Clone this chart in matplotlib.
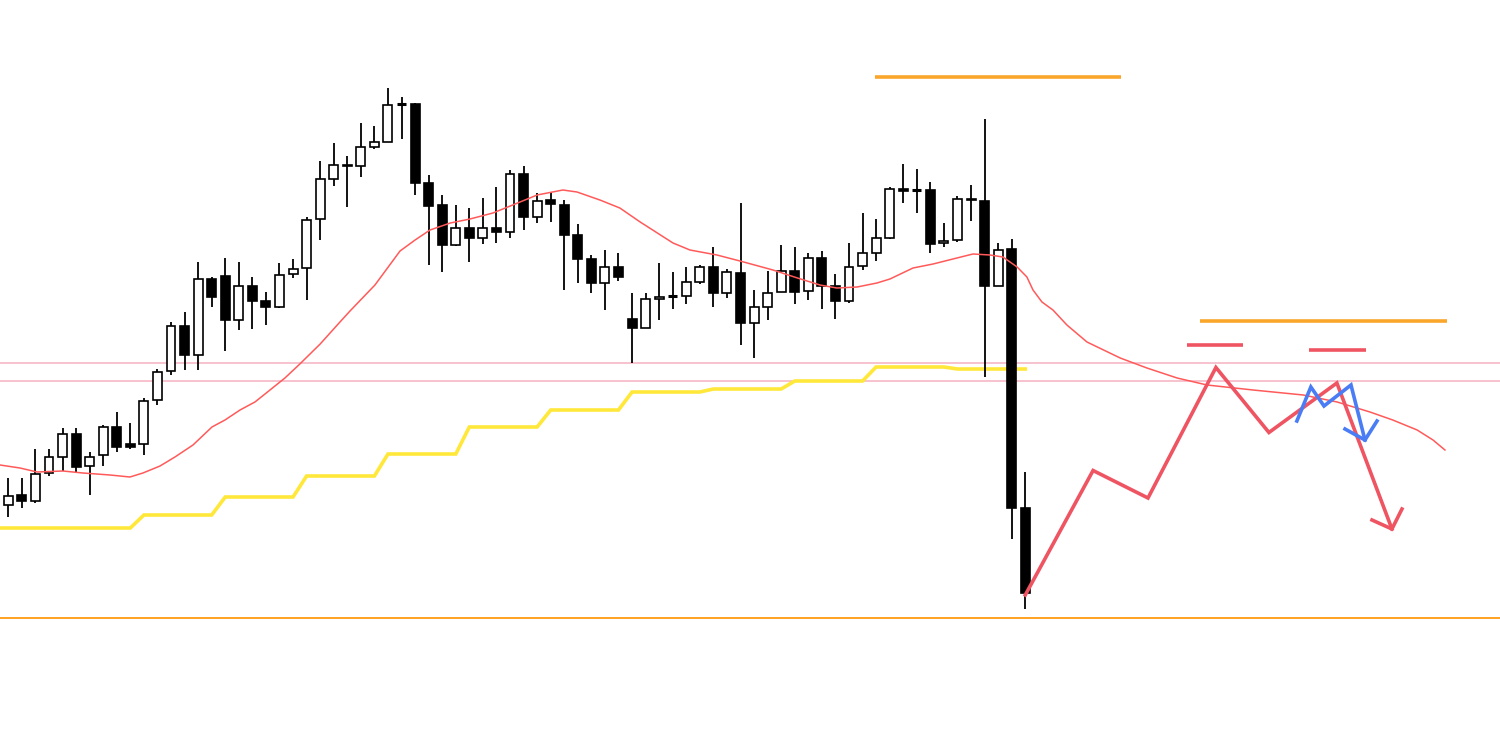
import matplotlib
matplotlib.use("Agg")
import matplotlib.pyplot as plt
from matplotlib.patches import Rectangle

# ---- candle data (price levels on an inverted chart scale; smaller = higher) ----
idx = list(range(-1, 76))
opens = [503, 505, 495, 501, 473, 457, 434, 466, 455, 427, 444, 444, 400, 371, 326, 355, 279, 276, 320, 286, 301,
         307, 274, 268, 219, 179, 166, 166, 147, 142, 104, 104, 183, 205, 245, 228, 238, 228, 232, 174, 217,
         200, 205, 235, 259, 283, 267, 319, 328, 299, 296, 296, 282, 267, 293, 273, 323, 307, 292, 271, 291,
         258, 286, 301, 266, 253, 238, 189, 190, 190, 243, 240, 200, 201, 286, 249, 508]
highs = [460, 478, 478, 449, 449, 428, 428, 452, 425, 412, 423, 398, 369, 322, 312, 262, 277, 258, 262, 277, 292,
         263, 259, 217, 161, 143, 156, 123, 126, 88, 97, 103, 175, 195, 205, 208, 198, 187, 170, 166, 193,
         192, 200, 224, 255, 250, 253, 293, 293, 263, 272, 267, 265, 247, 269, 203, 290, 271, 245, 247, 253,
         251, 274, 243, 213, 219, 187, 164, 169, 182, 223, 196, 185, 119, 243, 239, 472]
lows = [505, 517, 508, 503, 476, 471, 472, 495, 466, 452, 449, 455, 405, 375, 370, 370, 307, 351, 330, 329, 325,
        308, 278, 300, 240, 186, 207, 177, 149, 142, 139, 195, 265, 272, 246, 262, 244, 243, 238, 230, 223,
        222, 290, 283, 293, 310, 281, 363, 328, 320, 309, 304, 284, 307, 298, 345, 358, 320, 292, 304, 300,
        309, 319, 303, 270, 261, 239, 203, 213, 253, 247, 242, 221, 377, 286, 539, 609]
closes = [462, 496, 501, 474, 457, 434, 467, 457, 427, 447, 447, 401, 372, 326, 355, 279, 297, 320, 286, 301, 307,
          275, 269, 220, 179, 165, 165, 147, 142, 105, 104, 183, 206, 245, 228, 238, 228, 232, 174, 217, 201,
          204, 235, 259, 283, 267, 277, 328, 299, 297, 296, 282, 267, 293, 272, 323, 307, 293, 271, 292, 258,
          286, 301, 267, 253, 238, 189, 191, 190, 244, 241, 199, 199, 286, 250, 508, 593]

# yellow step line (higher timeframe level), one value per candle
yellow = [528] * 11 + [515] * 6 + [497] * 6 + [476] * 6 + [454] * 6 + [427] * 6 + [410] * 6 + \
         [392] * 6 + [389] * 6 + [381] * 6 + [367] * 6 + [369] * 6

# thin red moving average (candle-index position, level)
ma_x = [-0.61, 0.86, 2.12, 4.03, 5.5, 7.5, 8.97, 9.93, 11.19, 12.29, 13.62, 15.02, 15.98, 17.09, 18.19, 19.3,
        20.4, 21.5, 23.0, 24.46, 25.2, 27.04, 28.89, 30.0, 31.1, 32.6, 34.05, 35.74, 37.2, 39.0, 40.9, 41.94,
        43.63, 45.1, 46.6, 49.02, 50.27, 52.26, 53.96, 56.39, 58.2, 59.86, 61.1, 62.6, 64.06, 65.02, 66.72,
        68.2, 69.96, 71.14, 72.4, 73.35, 74.4, 75.12, 75.57, 76.23, 77.04, 78.07, 79.55, 82.0, 83.97, 86.2,
        88.4, 91.8, 95.5, 98.0, 100.42, 102.1, 103.9, 105.07, 105.95]
ma_y = [465, 468, 472, 471, 473, 475, 477, 473, 466, 457, 445, 427, 420, 410, 402, 390,
        378, 364, 344, 322, 311, 285, 251, 240, 230, 223, 219, 213, 205, 195, 190, 192,
        200, 208, 222, 243, 250, 255, 261, 270, 278, 285, 288, 287, 283, 279, 268,
        264, 258, 254, 255, 257, 267, 277, 290, 302, 310, 325, 342, 358, 368, 378,
        385, 390, 395, 402, 412, 420, 430, 440, 450]

# horizontal levels
pink_levels = [363, 380.5]
bottom_level = 618
orange_top = (63.92, 82.06, 77)
orange_mid = (87.9, 106.1, 320.5)
red_short = [(86.92, 91.05, 345), (95.92, 100.13, 350)]

# scenario drawings
red_path_x = [75.0, 80.0, 84.05, 89.06, 92.97, 97.98, 102.04]
red_path_y = [595, 470.5, 498, 367.5, 432.5, 383, 529]
red_head_x = [100.57, 102.04, 102.78]
red_head_y = [520, 529, 509]
blue_path_x = [95.03, 96.06, 97.03, 99.02, 100.05]
blue_path_y = [421, 387, 406, 385, 440]
blue_head_x = [98.58, 100.05, 100.94]
blue_head_y = [429, 440, 421]

fig = plt.figure(figsize=(15, 7.45), dpi=100)
ax = fig.add_axes([0, 0, 1, 1])
ax.set_xlim(-0.612, 110.01)
ax.set_ylim(745, 0)
ax.axis("off")

for lv in pink_levels:
    ax.axhline(lv, color="#F5B8C6", lw=1.2, zorder=1)
ax.axhline(bottom_level, color="#FF9A10", lw=1.3, zorder=1)

ax.plot(idx, yellow, color="#FFE83A", lw=2.6, zorder=2, solid_joinstyle="miter")
ax.plot(ma_x, ma_y, color="#FF5A5A", lw=1.1, zorder=4)

w = 0.66
for i, o, h, l, c in zip(idx, opens, highs, lows, closes):
    ax.vlines(i, h, l, color="black", lw=1.3, zorder=3)
    if o == c:
        ax.hlines(o, i - w / 2, i + w / 2, color="black", lw=2.2, zorder=3.5)
    else:
        bull = c < o
        ax.add_patch(Rectangle((i - w / 2, min(o, c)), w, abs(c - o),
                               facecolor="white" if bull else "black",
                               edgecolor="black", lw=1.2, zorder=3.5))

ax.hlines(orange_top[2], orange_top[0], orange_top[1], color="#F9A62B", lw=2.6, zorder=5)
ax.hlines(orange_mid[2], orange_mid[0], orange_mid[1], color="#F9A62B", lw=2.6, zorder=5)
for x0, x1, yv in red_short:
    ax.hlines(yv, x0, x1, color="#EF5462", lw=2.6, zorder=5)

ax.plot(red_path_x, red_path_y, color="#EF5462", lw=2.6, zorder=6, solid_joinstyle="miter")
ax.plot(red_head_x, red_head_y, color="#EF5462", lw=2.6, zorder=6, solid_joinstyle="miter")
ax.plot(blue_path_x, blue_path_y, color="#4A7DF5", lw=2.6, zorder=7, solid_joinstyle="miter")
ax.plot(blue_head_x, blue_head_y, color="#4A7DF5", lw=2.6, zorder=7, solid_joinstyle="miter")

fig.savefig("out.png", dpi=100, facecolor="white")
